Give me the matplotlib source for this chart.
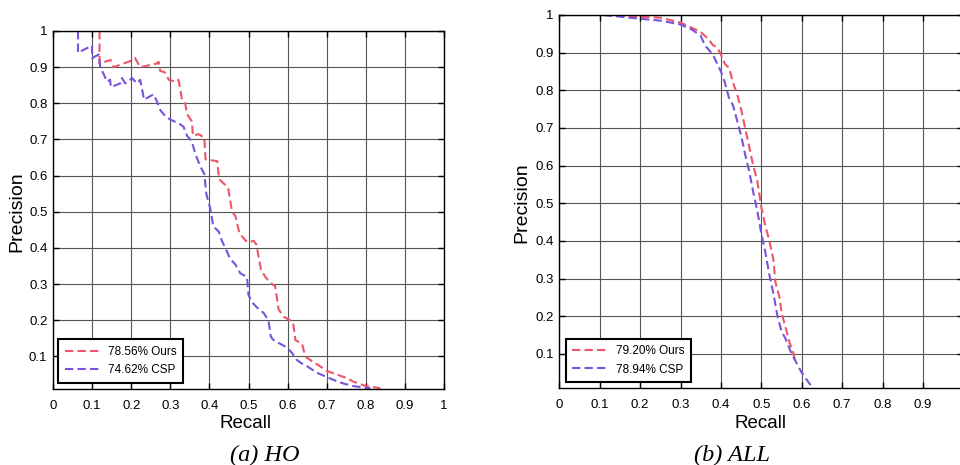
#%%
# PR curves, HO and ALL subsets
import matplotlib.pyplot as plt

#%%
# DATA
# (a) HO
ho_ours_recall = [0.119, 0.119, 0.147, 0.155, 0.206, 0.210, 0.223, 0.266, 0.270, 0.274, 0.287,
                  0.296, 0.313, 0.321, 0.330, 0.338, 0.343, 0.355, 0.358, 0.372, 0.387, 0.390,
                  0.420, 0.425, 0.445, 0.448, 0.458, 0.466, 0.477, 0.493, 0.500, 0.513, 0.520,
                  0.532, 0.543, 0.560, 0.568, 0.577, 0.590, 0.614, 0.620, 0.637, 0.645, 0.658,
                  0.680, 0.700, 0.726, 0.752, 0.769, 0.795, 0.820, 0.837]
ho_ours_prec = [1.000, 0.910, 0.920, 0.900, 0.920, 0.925, 0.900, 0.910, 0.915, 0.890, 0.885,
                0.865, 0.860, 0.865, 0.810, 0.800, 0.770, 0.750, 0.710, 0.715, 0.705, 0.645,
                0.640, 0.590, 0.570, 0.565, 0.500, 0.490, 0.440, 0.420, 0.415, 0.420, 0.410,
                0.340, 0.320, 0.300, 0.295, 0.230, 0.210, 0.195, 0.145, 0.135, 0.100, 0.090,
                0.075, 0.060, 0.050, 0.040, 0.030, 0.020, 0.015, 0.012]
ho_csp_recall = [0.064, 0.064, 0.100, 0.100, 0.117, 0.121, 0.130, 0.138, 0.146, 0.148, 0.172,
                 0.176, 0.185, 0.202, 0.215, 0.223, 0.233, 0.257, 0.266, 0.275, 0.287, 0.300,
                 0.321, 0.334, 0.343, 0.355, 0.364, 0.377, 0.387, 0.392, 0.402, 0.410, 0.424,
                 0.432, 0.445, 0.453, 0.466, 0.479, 0.496, 0.500, 0.509, 0.522, 0.539, 0.551,
                 0.557, 0.564, 0.581, 0.598, 0.611, 0.624, 0.637, 0.654, 0.675, 0.696, 0.718,
                 0.743, 0.769, 0.795, 0.812]
ho_csp_prec = [1.000, 0.940, 0.960, 0.925, 0.935, 0.900, 0.880, 0.860, 0.865, 0.845, 0.855,
               0.870, 0.855, 0.870, 0.855, 0.865, 0.810, 0.825, 0.805, 0.780, 0.765, 0.755,
               0.745, 0.735, 0.710, 0.695, 0.660, 0.625, 0.605, 0.550, 0.510, 0.460, 0.445,
               0.420, 0.390, 0.370, 0.355, 0.330, 0.320, 0.270, 0.250, 0.235, 0.220, 0.200,
               0.155, 0.145, 0.135, 0.125, 0.110, 0.090, 0.080, 0.070, 0.055, 0.045, 0.035,
               0.025, 0.018, 0.014, 0.012]

# (b) ALL
all_ours_recall = [0.110, 0.200, 0.250, 0.280, 0.300, 0.330, 0.350, 0.370, 0.380, 0.390, 0.400,
                   0.410, 0.420, 0.430, 0.440, 0.450, 0.460, 0.470, 0.480, 0.490, 0.500, 0.510,
                   0.520, 0.530, 0.535, 0.545, 0.550, 0.560, 0.570, 0.580, 0.585]
all_ours_prec = [1.000, 0.995, 0.993, 0.985, 0.980, 0.965, 0.955, 0.935, 0.920, 0.915, 0.895,
                 0.870, 0.860, 0.820, 0.790, 0.750, 0.700, 0.650, 0.600, 0.560, 0.490, 0.440,
                 0.400, 0.350, 0.290, 0.250, 0.210, 0.170, 0.130, 0.100, 0.075]
all_csp_recall = [0.110, 0.200, 0.250, 0.300, 0.330, 0.350, 0.360, 0.380, 0.400, 0.410, 0.420,
                  0.430, 0.440, 0.450, 0.460, 0.470, 0.480, 0.490, 0.500, 0.510, 0.520, 0.530,
                  0.540, 0.550, 0.560, 0.575, 0.590, 0.600, 0.620, 0.625]
all_csp_prec = [1.000, 0.990, 0.985, 0.975, 0.960, 0.945, 0.920, 0.895, 0.850, 0.820, 0.780,
                0.760, 0.720, 0.680, 0.630, 0.585, 0.530, 0.480, 0.420, 0.370, 0.310, 0.260,
                0.200, 0.160, 0.140, 0.100, 0.070, 0.050, 0.020, 0.010]

ho_labels = ['78.56% Ours', '74.62% CSP']
all_labels = ['79.20% Ours', '78.94% CSP']
xticks = [0, 0.1, 0.2, 0.3, 0.4, 0.5, 0.6, 0.7, 0.8, 0.9, 1]
xticklabels = ['0', '0.1', '0.2', '0.3', '0.4', '0.5', '0.6', '0.7', '0.8', '0.9', '1']
yticks = [0.1, 0.2, 0.3, 0.4, 0.5, 0.6, 0.7, 0.8, 0.9, 1]
yticklabels = ['0.1', '0.2', '0.3', '0.4', '0.5', '0.6', '0.7', '0.8', '0.9', '1']

#%%
plt.rcParams['font.family'] = ['Liberation Sans', 'DejaVu Sans']
RED = '#EE5568'
PURPLE = '#7A52DD'
W, H = 960, 465

fig = plt.figure(figsize=(9.6, 4.65), dpi=100)
ax1 = fig.add_axes([53 / W, 76 / H, 391 / W, 358 / H])
ax2 = fig.add_axes([559.3 / W, 77.3 / H, 404 / W, 372.7 / H])


def style(ax, leg_anchor, xlabels):
    ax.set_xlim(0, 1)
    ax.set_ylim(0.01, 1)
    ax.set_xticks(xticks)
    ax.set_xticklabels(xlabels)
    ax.set_yticks(yticks)
    ax.set_yticklabels(yticklabels)
    ax.tick_params(direction='in', top=True, right=True, length=4, width=1,
                   labelsize=9.5, colors='black')
    ax.tick_params(axis='x', pad=8)
    ax.tick_params(axis='y', pad=4)
    ax.grid(True, color='#555555', lw=0.8, ls='-')
    ax.set_axisbelow(True)
    for s in ax.spines.values():
        s.set_linewidth(1.0)
        s.set_color('black')
    leg = ax.legend(loc='lower left', bbox_to_anchor=leg_anchor, borderaxespad=0,
                    fontsize=8.5, handlelength=2.9, handletextpad=0.8,
                    labelspacing=0.55, borderpad=0.55, fancybox=False,
                    framealpha=1, edgecolor='black')
    leg.get_frame().set_linewidth(1.5)


ax1.plot(ho_ours_recall, ho_ours_prec, color=RED, lw=1.5, ls=(0, (4, 2)), label=ho_labels[0])
ax1.plot(ho_csp_recall, ho_csp_prec, color=PURPLE, lw=1.5, ls=(0, (4, 2)), label=ho_labels[1])
style(ax1, (0.013, 0.017), xticklabels)

ax2.plot(all_ours_recall, all_ours_prec, color=RED, lw=1.5, ls=(0, (4, 2)), label=all_labels[0])
ax2.plot(all_csp_recall, all_csp_prec, color=PURPLE, lw=1.5, ls=(0, (4, 2)), label=all_labels[1])
# the right panel is cropped at the figure edge, so its "1" label is not shown
style(ax2, (0.0166, 0.015), xticklabels[:-1] + [''])

# axis labels and captions
fig.text(246 / W, 1 - 423 / H, 'Recall', fontsize=13.5, ha='center', va='center')
fig.text(17 / W, 1 - 212 / H, 'Precision', fontsize=14, ha='center', va='center', rotation=90)
fig.text(760 / W, 1 - 423 / H, 'Recall', fontsize=13.5, ha='center', va='center')
fig.text(522 / W, 1 - 203 / H, 'Precision', fontsize=14, ha='center', va='center', rotation=90)
fig.text(265 / W, 1 - 455 / H, '(a) HO', fontsize=17.5, ha='center', va='center',
         family='Liberation Serif', style='italic')
fig.text(732 / W, 1 - 455 / H, '(b) ALL', fontsize=17.5, ha='center', va='center',
         family='Liberation Serif', style='italic')

fig.savefig('out.png', dpi=100)
